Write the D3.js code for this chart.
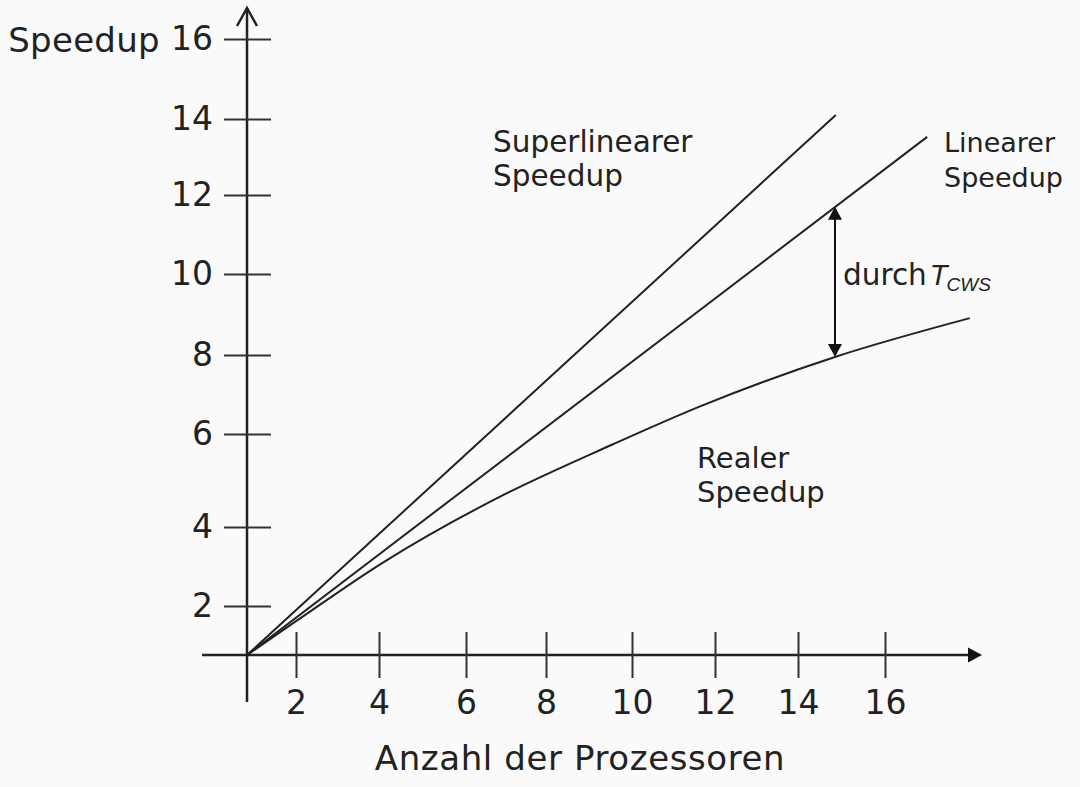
<!DOCTYPE html>
<html>
<head>
<meta charset="utf-8">
<script src="https://cdn.jsdelivr.net/npm/d3@7"></script>
<style>
  body { margin: 0; background: #fafafa; }
  svg { display: block; }
  text { font-family: "DejaVu Sans", Verdana, sans-serif; fill: #222; }
</style>
</head>
<body>
<svg id="chart" width="1080" height="787"></svg>
<script>
// values (processors -> speedup)
let x_ticks = [2, 4, 6, 8, 10, 12, 14, 16]
let y_ticks = [2, 4, 6, 8, 10, 12, 14, 16]

let superlinear = [{p: 1, s: 1}, {p: 14.87, s: 14.1}]
let linear = [{p: 1, s: 1}, {p: 16.97, s: 13.53}]
let real = [
  {p: 1, s: 1}, {p: 2, s: 1.69}, {p: 4.09, s: 3.1}, {p: 6.73, s: 4.6},
  {p: 9.56, s: 5.78}, {p: 11.64, s: 6.7}, {p: 14.85, s: 7.95}, {p: 17.95, s: 8.91}
]
// gap between linear and real speedup, marked with the double arrow
let gap = {p: 14.85, from: 7.95, to: 11.7}

let width = 1080,
  height = 787,
  svg = d3.select("#chart")

// the drawing is by hand, so the tick spacing is uneven: piecewise scales
let x = d3.scaleLinear()
  .domain([1].concat(x_ticks))
  .range([247, 296, 379, 466, 546, 632, 715, 798, 885])
let y = d3.scaleLinear()
  .domain([1].concat(y_ticks))
  .range([655, 606, 527, 434, 355, 274, 195, 119, 39])

let x0 = x(1), y0 = y(1)

// axis lines
svg.append("line")
  .attr("x1", x0).attr("y1", y0 + 47)
  .attr("x2", x0).attr("y2", 8)
  .attr("stroke", "#222").attr("stroke-width", 2.5)
svg.append("polyline")
  .attr("points", [[x0 - 10, 26], [x0, 8], [x0 + 10, 26]].join(" "))
  .attr("fill", "none").attr("stroke", "#222").attr("stroke-width", 2.5)

svg.append("line")
  .attr("x1", x0 - 45).attr("y1", y0)
  .attr("x2", 972).attr("y2", y0)
  .attr("stroke", "#222").attr("stroke-width", 2.5)
svg.append("path")
  .attr("d", `M968,${y0 - 7.5}L982,${y0}L968,${y0 + 7.5}Z`)
  .attr("fill", "#111")

// ticks through d3 axes, tick marks cross the axis line
let gy = svg.append("g")
  .attr("transform", `translate(${x0},0)`)
  .call(d3.axisLeft(y).tickValues(y_ticks).tickSize(23).tickPadding(11))
gy.select(".domain").remove()
gy.selectAll(".tick line").attr("x1", 24).attr("stroke", "#333").attr("stroke-width", 2)
gy.selectAll(".tick text")
  .attr("font-size", 33)
  .attr("font-family", "'DejaVu Sans', Verdana, sans-serif")
  .attr("fill", "#222")

let gx = svg.append("g")
  .attr("transform", `translate(0,${y0})`)
  .call(d3.axisBottom(x).tickValues(x_ticks).tickSize(23).tickPadding(13))
gx.select(".domain").remove()
gx.selectAll(".tick line").attr("y1", -23).attr("stroke", "#333").attr("stroke-width", 2)
gx.selectAll(".tick text")
  .attr("font-size", 33)
  .attr("font-family", "'DejaVu Sans', Verdana, sans-serif")
  .attr("fill", "#222")

svg.append("text")
  .attr("x", 160).attr("y", 52)
  .attr("text-anchor", "end")
  .attr("font-size", 34)
  .attr("letter-spacing", 0.3)
  .text("Speedup")

svg.append("text")
  .attr("x", 580).attr("y", 770)
  .attr("text-anchor", "middle")
  .attr("font-size", 34)
  .attr("letter-spacing", 0.6)
  .text("Anzahl der Prozessoren")

// speedup lines
let line = d3.line()
  .x(d => x(d.p))
  .y(d => y(d.s))

svg.append("path").datum(superlinear)
  .attr("d", line)
  .attr("fill", "none").attr("stroke", "#222").attr("stroke-width", 2)
svg.append("path").datum(linear)
  .attr("d", line)
  .attr("fill", "none").attr("stroke", "#222").attr("stroke-width", 2)
svg.append("path").datum(real)
  .attr("d", line.curve(d3.curveMonotoneX))
  .attr("fill", "none").attr("stroke", "#222").attr("stroke-width", 2)

// double arrow for the loss
let ax = x(gap.p), atop = y(gap.to), abot = y(gap.from)
svg.append("line")
  .attr("x1", ax).attr("y1", atop + 10)
  .attr("x2", ax).attr("y2", abot - 10)
  .attr("stroke", "#111").attr("stroke-width", 2)
svg.append("path")
  .attr("d", `M${ax},${atop}L${ax + 7},${atop + 13}L${ax - 7},${atop + 13}Z`)
  .attr("fill", "#111")
svg.append("path")
  .attr("d", `M${ax},${abot}L${ax + 7},${abot - 13}L${ax - 7},${abot - 13}Z`)
  .attr("fill", "#111")

let dt = svg.append("text")
  .attr("x", 843).attr("y", 285)
  .attr("font-size", 29.5)
dt.append("tspan").text("durch")
dt.append("tspan")
  .attr("dx", 3)
  .attr("font-family", "'Liberation Sans', Arial, sans-serif")
  .attr("font-style", "italic")
  .attr("font-size", 29)
  .text("T")
dt.append("tspan")
  .attr("dy", 6)
  .attr("dx", -1)
  .attr("font-family", "'Liberation Sans', Arial, sans-serif")
  .attr("font-style", "italic")
  .attr("font-size", 19)
  .text("CWS")

// region labels
function label(lines, lx, ly, size, gap_y) {
  let t = svg.append("text")
    .attr("x", lx).attr("y", ly)
    .attr("font-size", size)
  lines.forEach((s, i) => {
    t.append("tspan")
      .attr("x", lx)
      .attr("y", ly + i * gap_y)
      .text(s)
  })
}
label(["Superlinearer", "Speedup"], 493, 152, 29.5, 34)
label(["Linearer", "Speedup"], 944, 152, 27, 35)
label(["Realer", "Speedup"], 697, 468, 29, 34)
</script>
</body>
</html>
